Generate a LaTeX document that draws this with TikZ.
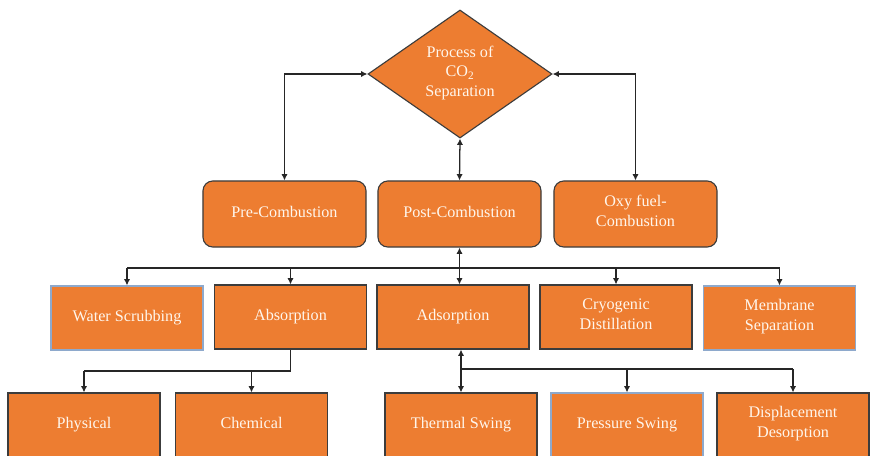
\documentclass[tikz,border=0pt]{standalone}
\usepackage{fontspec}
\setmainfont{Liberation Serif}
\usetikzlibrary{positioning}
\usetikzlibrary{shapes}
\usetikzlibrary{arrows.meta}

\definecolor{boxfill}{HTML}{ED7D31}
\definecolor{boxline}{HTML}{3C3C3C}
\definecolor{paleline}{HTML}{8EA9CC}
\definecolor{wirecol}{HTML}{262626}
\definecolor{textcol}{HTML}{FFF6EC}

\tikzset{
  box/.style={draw=boxline, line width=0.8pt, fill=boxfill, text=textcol, align=center,
    minimum width=3.8cm, minimum height=1.6cm, inner sep=1pt,
    font=\fontsize{11.5}{14}\selectfont,
    execute at begin node=\strut, execute at end node=\strut},
  palebox/.style={box, draw=paleline},
  roundbox/.style={box, rounded corners=7pt, minimum width=4.075cm, minimum height=1.65cm},
  decision/.style={box, diamond, aspect=1.44, minimum width=4.6cm, minimum height=3.2cm},
  link/.style={wirecol, line width=0.9pt},
  >={Latex[length=4.5pt,width=4.5pt]}
}

\begin{document}
\begin{tikzpicture}[x=0.025cm, y=-0.025cm]
\useasboundingbox (0,0) rectangle (872,455);
\clip (0,0) rectangle (872,455);
\fill[white] (0,0) rectangle (872,455);

%top decision
\node[decision] (proc) at (460,74) {Process of\\CO\textsubscript{2}\\Separation};

%combustion routes
\node[roundbox] (pre) at (284.5,214) {Pre-Combustion};
\node[roundbox] (post) at (459.5,214) {Post-Combustion};
\node[roundbox] (oxy) at (635.5,214) {Oxy fuel-\\Combustion};

%separation methods
\node[palebox] (water) at (127,318) {Water Scrubbing};
\node[box] (abs) at (290.5,317) {Absorption};
\node[box] (ads) at (453,317) {Adsorption};
\node[box] (cryo) at (616,317) {Cryogenic\\Distillation};
\node[palebox] (memb) at (779.5,318) {Membrane\\Separation};

%sub-types
\node[box] (phys) at (84,425) {Physical};
\node[box] (chem) at (251.5,425) {Chemical};
\node[box] (therm) at (461,425) {Thermal Swing};
\node[palebox] (press) at (627,425) {Pressure Swing};
\node[box] (disp) at (793,425) {Displacement\\Desorption};

%links to the decision
\draw[link,<->] (proc.west) -| (pre.north);
\draw[link,<->] (proc.east) -| (oxy.north);
\draw[link,<->] (proc.south) -- (post.north);

%bus under post-combustion
\coordinate (busT) at (0,268);
\draw[link] (water.north |- busT) -- (memb.north |- busT);
\draw[link,<->] (post.south) -- (post.south |- ads.north);
\foreach \n in {water,abs,cryo,memb}
  \draw[link,->] (\n.north |- busT) -- (\n.north);

%absorption fork
\coordinate (forkA) at (0,371);
\draw[link] (abs.south) |- (phys.north |- forkA);
\foreach \n in {phys,chem}
  \draw[link,->] (\n.north |- forkA) -- (\n.north);

%adsorption fork
\coordinate (forkB) at (0,369);
\draw[link,<-] (ads.south -| therm.north) -- (therm.north |- forkB) -- (disp.north |- forkB);
\foreach \n in {therm,press,disp}
  \draw[link,->] (\n.north |- forkB) -- (\n.north);

\end{tikzpicture}
\end{document}
